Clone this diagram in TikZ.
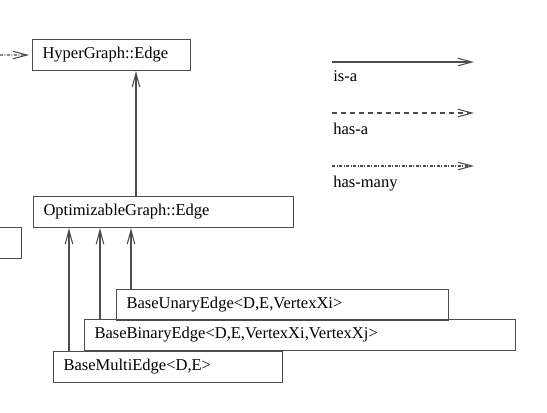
\documentclass[tikz,border=0pt]{standalone}
\usepackage{fontspec}
\setmainfont{Liberation Serif}
\usetikzlibrary{arrows.meta}
\tikzset{cls/.style={draw=black!70, line width=0.6pt, anchor=north west,
		inner xsep=0.2cm, inner ysep=0pt, minimum height=0.62cm, align=left,
		font=\fontsize{9.4}{11}\selectfont},
	isa/.style={draw=black!70, line width=0.6pt, -{Straight Barb[length=0.28cm, width=0.15cm]}},
	hasa/.style={isa, dash pattern=on 0.1cm off 0.08cm},
	hasmany/.style={isa, dash pattern=on 0.06cm off 0.03cm on 0.02cm off 0.03cm},
	legend/.style={anchor=base west, inner sep=0pt, font=\fontsize{9.4}{11}\selectfont}}

\begin{document}
\begin{tikzpicture}
    [x=0.02cm, y=-0.02cm]
    \useasboundingbox (0,0) rectangle (547,412);
    \clip (0,0) rectangle (547,412);
    %		classes
    \node[cls, text width=2.76cm] (hyper) at (32,39){HyperGraph::Edge};
    \node[cls, text width=4.8cm] (opt) at (33,196){OptimizableGraph::Edge};
    \node[cls, anchor=north east, minimum width=2cm] (other) at (22,227){};
    \node[cls, text width=6.24cm] (unary) at (116,289){BaseUnaryEdge<D,E,VertexXi>};
    \node[cls, text width=8.22cm] (binary) at (84,319){BaseBinaryEdge<D,E,VertexXi,VertexXj>};
    \node[cls, text width=4.18cm] (multi) at (53,351){BaseMultiEdge<D,E>};
    \coordinate (src) at (0,55);
    \draw[isa] ([xshift=2.06cm]opt.north west) -- ([xshift=2.06cm]opt.north west |- hyper.south);
    \draw[isa] ([xshift=0.3cm]unary.north west) -- ([xshift=0.3cm]unary.north west |- opt.south);
    \draw[isa] ([xshift=0.32cm]binary.north west) -- ([xshift=0.32cm]binary.north west |- opt.south);
    \draw[isa] ([xshift=0.32cm]multi.north west) -- ([xshift=0.32cm]multi.north west |- opt.south);
    \draw[hasmany, shorten >=0.06cm] (src) -- (hyper.west);
    %		legend
    \coordinate (isa0) at (332,62);
    \coordinate (isa1) at (474,62);
    \coordinate (hasa0) at (332,113);
    \coordinate (hasa1) at (474,113);
    \coordinate (many0) at (332,166);
    \coordinate (many1) at (474,166);
    \draw[isa] (isa0) to (isa1);
    \draw[hasa] (hasa0) to (hasa1);
    \draw[hasmany] (many0) to (many1);
    \node[legend] (isatext) at (333,82){is-a};
    \node[legend] (hasatext) at (333,134){has-a};
    \node[legend] (manytext) at (333,187){has-many};
\end{tikzpicture}
\end{document}
